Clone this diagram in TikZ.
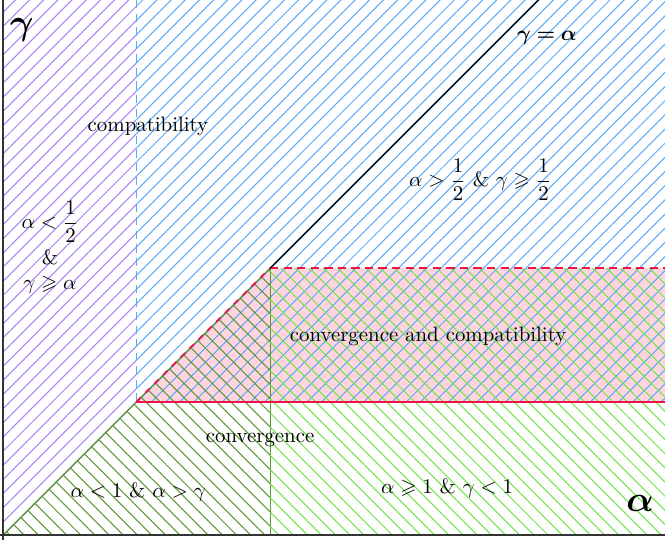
\documentclass[tikz,border=0pt]{standalone}
\usepackage{amsmath,amssymb,bm}
\usetikzlibrary{patterns.meta}
\definecolor{purp}{RGB}{170,130,245}
\definecolor{blueh}{RGB}{90,170,250}
\definecolor{lgreen}{RGB}{110,230,70}
\definecolor{dgreen}{RGB}{90,150,50}
\definecolor{pinkfill}{RGB}{255,212,222}
\definecolor{redl}{RGB}{240,20,70}
\begin{document}
\begin{tikzpicture}[x=4.5cm,y=4.5cm,
  hatch/.style args={#1/#2}{pattern={Lines[angle=#1,distance=4.8pt,line width=0.5pt]},pattern color=#2},
  lbl/.style={inner sep=1pt,font=\normalsize}]
\useasboundingbox (-0.011,-0.015) rectangle (2.479,2.004);
\begin{scope}
\clip (-0.011,-0.015) rectangle (2.479,2.004);
% pink region
\fill[pinkfill] (0.5,0.5) -- (1,1) -- (2.6,1) -- (2.6,0.5) -- cycle;
% purple region
\path[hatch=45/purp] (0,0) -- (0.5,0.5) -- (0.5,2.1) -- (0,2.1) -- cycle;
\draw[purp,line width=0.6pt] (0,0) -- (0.5,0.5);
% blue region
\path[hatch=45/blueh] (0.5,0.5) rectangle (2.6,2.1);
% dark green triangle
\path[hatch=-45/dgreen] (0,0) -- (1,0) -- (1,1) -- cycle;
\draw[dgreen,line width=0.6pt] (0,0) -- (1,1);
\draw[dgreen,line width=0.35pt] (1,0) -- (1,1);
% light green region
\path[hatch=-45/lgreen] (1,0) rectangle (2.6,1);
% boundaries
\draw[blueh,dash pattern=on 4pt off 2.5pt,line width=0.8pt] (0.5,0.5) -- (0.5,2.1);
\draw[redl,dashed,line width=0.8pt] (0.5,0.5) -- (1,1);
\draw[redl,dash pattern=on 4pt off 2.5pt,line width=0.8pt] (1,1) -- (2.6,1);
\draw[redl,line width=1pt] (0.5,0.5) -- (2.6,0.5);
\draw[black,line width=0.6pt] (1,1) -- (2.1,2.1);
% axes
\draw[black!80,line width=1.1pt] (0,-0.1) -- (0,2.1);
\draw[black!80,line width=1.1pt] (-0.1,0) -- (2.6,0);
\end{scope}
% labels
\node[lbl,font=\LARGE] (gam) at (0.071,1.891) {$\bm{\gamma}$};
\node[lbl,font=\LARGE] (alp) at (2.386,0.120) {$\bm{\alpha}$};
\node[lbl] (diag) at (2.037,1.861) {$\bm{\gamma=\alpha}$};
\node[lbl] (compat) at (0.543,1.532) {compatibility};
\node[lbl] (upper) at (1.787,1.330) {$\alpha>\dfrac{1}{2}$ \& $\gamma\geqslant\dfrac{1}{2}$};
\node[lbl,align=center] (left) at (0.176,1.079) {$\alpha<\dfrac{1}{2}$\\[2pt]\&\\$\gamma\geqslant\alpha$};
\node[lbl] (both) at (1.592,0.745) {convergence and compatibility};
\node[lbl] (conv) at (0.963,0.356) {convergence};
\node[lbl] (lowl) at (0.506,0.161) {$\alpha<1$ \& $\alpha>\gamma$};
\node[lbl] (lowr) at (1.663,0.176) {$\alpha\geqslant 1$ \& $\gamma<1$};
\end{tikzpicture}
\end{document}
